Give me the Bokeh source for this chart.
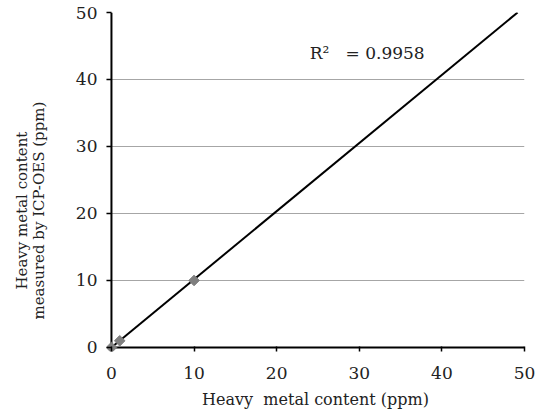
import math
from bokeh.plotting import figure
from bokeh.models import Label, FixedTicker, Range1d
from bokeh.embed import file_html
from bokeh.resources import INLINE

# data
x_known = [0, 1, 10]
y_measured = [0, 1, 10]
trend_slope = 1.017
trend_intercept = 0.0
r2_text = "R\u00b2\u00a0\u00a0 = 0.9958"
ticks = [0, 10, 20, 30, 40, 50]
axis_min, axis_max = 0, 50

FONT = "DejaVu Serif"
PAD = 0.6  # small room so the marker at the origin is not clipped
NB = "\u00a0" * 12

p = figure(width=536, height=413, output_backend="svg", toolbar_location=None,
           x_range=Range1d(axis_min - PAD, axis_max), y_range=Range1d(axis_min - PAD, axis_max),
           min_border_left=106, min_border_right=12, min_border_top=12, min_border_bottom=62)
p.frame_width = 418
p.frame_height = 339
p.outline_line_color = None
p.background_fill_color = "white"

p.xgrid.grid_line_color = None
p.ygrid.grid_line_color = "#a6a6a6"
p.ygrid.grid_line_width = 1

for ax in (p.xaxis, p.yaxis):
    ax.ticker = FixedTicker(ticks=ticks)
    ax.axis_line_color = None
    ax.major_tick_line_color = "black"
    ax.major_tick_line_width = 1.5
    ax.major_tick_out = 0
    ax.major_tick_in = 5
    ax.minor_tick_line_color = None
    ax.major_label_text_font = FONT
    ax.major_label_text_font_size = "17px"
    ax.major_label_text_color = "#222222"
    ax.axis_label_text_font = FONT
    ax.axis_label_text_font_style = "normal"
    ax.axis_label_text_color = "#222222"

p.xaxis.axis_label_text_font_size = "16px"
p.yaxis.axis_label_text_font_size = "15px"
p.yaxis.axis_label_text_line_height = 0.95
p.xaxis.axis_label = "Heavy\u00a0\u00a0metal content (ppm)"
p.yaxis.axis_label = "Heavy metal content" + NB + "\nmeasured by ICP-OES (ppm)" + NB
p.xaxis.major_label_standoff = 15
p.yaxis.major_label_standoff = 9
p.xaxis.axis_label_standoff = 8
p.yaxis.axis_label_standoff = 25

# axis lines through the origin
p.line([axis_min, axis_min], [axis_min, axis_max], line_color="black", line_width=2)
p.line([axis_min, axis_max], [axis_min, axis_min], line_color="black", line_width=2)

# trend line over x range
x_end = (axis_max - trend_intercept) / trend_slope
p.line([0, x_end], [trend_intercept, trend_intercept + trend_slope * x_end],
       line_color="black", line_width=2)

p.scatter(x_known, y_measured, marker="square", angle=math.pi / 4, size=7.5,
          fill_color="#7f7f7f", line_color="#7f7f7f")

p.add_layout(Label(x=24.0, y=43.9, text=r2_text, text_font=FONT,
                   text_font_size="17px", text_color="#222222",
                   text_baseline="middle"))

open("out.html", "w").write(file_html(p, INLINE))
